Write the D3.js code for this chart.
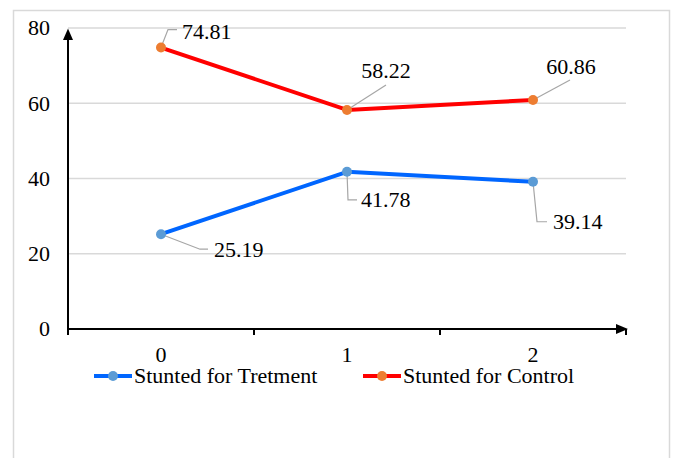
<!DOCTYPE html>
<html>
<head>
<meta charset="utf-8">
<script src="https://cdn.jsdelivr.net/npm/d3@7"></script>
<style>
  html, body { margin: 0; padding: 0; background: #fff; }
  svg { display: block; font-family: "Liberation Serif", "Times New Roman", serif; }
</style>
</head>
<body>
<svg id="chart" width="673" height="458"></svg>
<script>
// Data
const categories = ["0", "1", "2"];
const treatment = [25.19, 41.78, 39.14];
const control = [74.81, 58.22, 60.86];
const yTicks = [0, 20, 40, 60, 80];
const seriesNames = ["Stunted for Tretment", "Stunted for Control"];

const FS = 22;

// Label placement (text start x, leader elbow offsets relative to the marker)
const treatLabelPos = [
  { tx: 214, ex: 39, ey: 15, hx: 47 },
  { tx: 361, ex: 1, ey: 28, hx: 10 },
  { tx: 553, ex: 4, ey: 40, hx: 14 }
];

const svg = d3.select("#chart");

// Chart frame
svg.append("rect")
  .attr("x", 13.5).attr("y", 10.5)
  .attr("width", 656).attr("height", 460)
  .attr("fill", "#fff").attr("stroke", "#d9d9d9").attr("stroke-width", 1.5);

const x = d3.scaleBand().domain(categories).range([68, 626]);
const y = d3.scaleLinear().domain([0, 80]).range([329, 28]);
const cx = c => x(c) + x.bandwidth() / 2;

// Gridlines
svg.append("g").selectAll("line")
  .data(yTicks.filter(t => t > 0))
  .join("line")
  .attr("x1", 68).attr("x2", 626)
  .attr("y1", d => y(d)).attr("y2", d => y(d))
  .attr("stroke", "#d9d9d9").attr("stroke-width", 1.5);

// Y axis tick labels
svg.append("g").selectAll("text")
  .data(yTicks)
  .join("text")
  .attr("x", 50).attr("y", d => y(d))
  .attr("dy", "0.34em")
  .attr("text-anchor", "end")
  .attr("font-size", FS)
  .text(d => d);

// Axes with arrowheads
svg.append("line")
  .attr("x1", 68).attr("x2", 68).attr("y1", 333).attr("y2", 38)
  .attr("stroke", "#000").attr("stroke-width", 2);
svg.append("path")
  .attr("d", `M68,${y(80) + 0.5} L63,${y(80) + 12} L73,${y(80) + 12} Z`)
  .attr("fill", "#000");
svg.append("line")
  .attr("x1", 67).attr("x2", 617).attr("y1", 329).attr("y2", 329)
  .attr("stroke", "#000").attr("stroke-width", 2);
svg.append("path")
  .attr("d", `M628,329 L616,324 L616,334 Z`)
  .attr("fill", "#000");

// X ticks at band boundaries
const boundaries = categories.map(c => x(c)).concat([x.range()[1]]);
svg.append("g").selectAll("line")
  .data(boundaries)
  .join("line")
  .attr("x1", d => d).attr("x2", d => d)
  .attr("y1", 329).attr("y2", 335)
  .attr("stroke", "#000").attr("stroke-width", 2);

// X category labels
svg.append("g").selectAll("text")
  .data(categories)
  .join("text")
  .attr("x", d => cx(d)).attr("y", 355)
  .attr("dy", "0.34em")
  .attr("text-anchor", "middle")
  .attr("font-size", FS)
  .text(d => d);

const line = d3.line().x((d, i) => cx(categories[i])).y(d => y(d));

// Series lines
svg.append("path").datum(control)
  .attr("d", line).attr("fill", "none")
  .attr("stroke", "#ff0000").attr("stroke-width", 4).attr("stroke-linejoin", "round");
svg.append("path").datum(treatment)
  .attr("d", line).attr("fill", "none")
  .attr("stroke", "#0066ff").attr("stroke-width", 4).attr("stroke-linejoin", "round");

// Leader lines for data labels
const leader = "#a6a6a6";
// Control labels sit above the markers
const ctrlLeaders = [
  (px, py) => `M${px},${py} L${px + 7},${py - 18} L${px + 16},${py - 18}`,
  (px, py) => `M${px},${py} L${px + 39},${py - 25}`,
  (px, py) => `M${px},${py} L${px + 37},${py - 20}`
];
const ctrlText = [
  { dx: 21, dy: -16, anchor: "start" },
  { dx: 39, dy: -39, anchor: "middle" },
  { dx: 38, dy: -33, anchor: "middle" }
];
control.forEach((v, i) => {
  const px = cx(categories[i]), py = y(v);
  svg.append("path").attr("d", ctrlLeaders[i](px, py))
    .attr("fill", "none").attr("stroke", leader).attr("stroke-width", 1.2);
  svg.append("text")
    .attr("x", px + ctrlText[i].dx).attr("y", py + ctrlText[i].dy)
    .attr("dy", "0.34em").attr("text-anchor", ctrlText[i].anchor)
    .attr("font-size", FS)
    .text(v.toFixed(2));
});

treatment.forEach((v, i) => {
  const px = cx(categories[i]), py = y(v);
  const p = treatLabelPos[i];
  svg.append("path")
    .attr("d", `M${px},${py} L${px + p.ex},${py + p.ey} L${px + p.hx},${py + p.ey}`)
    .attr("fill", "none").attr("stroke", leader).attr("stroke-width", 1.2);
  svg.append("text")
    .attr("x", p.tx).attr("y", py + p.ey)
    .attr("dy", "0.34em").attr("text-anchor", "start")
    .attr("font-size", FS)
    .text(v.toFixed(2));
});

// Markers
svg.append("g").selectAll("circle")
  .data(control).join("circle")
  .attr("cx", (d, i) => cx(categories[i])).attr("cy", d => y(d))
  .attr("r", 5).attr("fill", "#ed7d31");
svg.append("g").selectAll("circle")
  .data(treatment).join("circle")
  .attr("cx", (d, i) => cx(categories[i])).attr("cy", d => y(d))
  .attr("r", 5).attr("fill", "#5b9bd5");

// Legend
const legendItems = [
  { name: seriesNames[0], line: "#0066ff", dot: "#5b9bd5", x0: 94 },
  { name: seriesNames[1], line: "#ff0000", dot: "#ed7d31", x0: 363 }
];
const lg = svg.append("g");
legendItems.forEach(it => {
  const ly = 376;
  lg.append("line").attr("x1", it.x0).attr("x2", it.x0 + 38)
    .attr("y1", ly).attr("y2", ly)
    .attr("stroke", it.line).attr("stroke-width", 4);
  lg.append("circle").attr("cx", it.x0 + 19).attr("cy", ly).attr("r", 5).attr("fill", it.dot);
  lg.append("text").attr("x", it.x0 + 40).attr("y", ly)
    .attr("dy", "0.34em").attr("font-size", FS)
    .text(it.name);
});
</script>
</body>
</html>
